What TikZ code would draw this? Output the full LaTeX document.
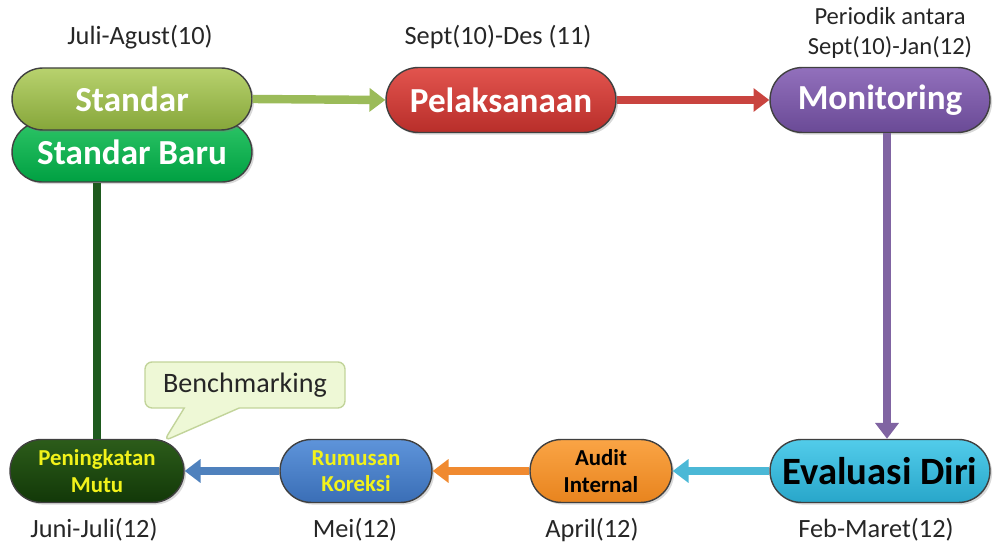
\documentclass[tikz,border=0pt]{standalone}
\usepackage{fontspec}
\setmainfont{Carlito}
\usetikzlibrary{arrows.meta,shapes.misc,shapes.callouts,shadows}
\definecolor{stTop}{HTML}{B8D26E}
\definecolor{stBot}{HTML}{86A63A}
\definecolor{sbTop}{HTML}{2CC466}
\definecolor{sbBot}{HTML}{00A042}
\definecolor{plTop}{HTML}{E2544E}
\definecolor{plBot}{HTML}{B82E2A}
\definecolor{moTop}{HTML}{9270BC}
\definecolor{moBot}{HTML}{6A4A96}
\definecolor{evTop}{HTML}{52CCEA}
\definecolor{evBot}{HTML}{28A6CA}
\definecolor{auTop}{HTML}{FAA445}
\definecolor{auBot}{HTML}{E8841E}
\definecolor{ruTop}{HTML}{5E94DA}
\definecolor{ruBot}{HTML}{3A6EB6}
\definecolor{peTop}{HTML}{2C5C1A}
\definecolor{peBot}{HTML}{123808}
\definecolor{arGreen}{HTML}{9BBB59}
\definecolor{arRed}{HTML}{C9443F}
\definecolor{arPurple}{HTML}{8064A2}
\definecolor{arCyan}{HTML}{4BB8D6}
\definecolor{arOrange}{HTML}{F08A30}
\definecolor{arBlue}{HTML}{4F81BD}
\definecolor{arDark}{HTML}{1E5A1E}
\definecolor{yel}{HTML}{F2F21A}
\definecolor{callFill}{HTML}{EEF8D6}
\definecolor{callLine}{HTML}{C2D49A}
\begin{document}
\begin{tikzpicture}[x=0.02cm,y=-0.02cm,
  box/.style={rounded rectangle, draw=black!75, line width=0.8pt, inner sep=0pt,
    align=center, drop shadow={opacity=0.3, shadow xshift=1.2pt, shadow yshift=-1.2pt}},
  bigtext/.style={font=\bfseries\fontsize{20}{21}\selectfont},
  smalltext/.style={font=\bfseries\fontsize{13}{15}\selectfont},
  lbl/.style={font=\fontsize{15}{17}\selectfont, text=black!85, align=center},
  conn/.style={line width=4.8pt, -{Triangle[width=13pt,length=9pt]}},
]
\useasboundingbox (0,0) rectangle (994,546);

% nodes
\node[box, minimum width=4.8cm, minimum height=1.2cm, top color=sbTop, bottom color=sbBot,
      text=white, bigtext] (baru) at (132,152) {Standar Baru};
\node[box, minimum width=4.8cm, minimum height=1.24cm, top color=stTop, bottom color=stBot,
      text=white, bigtext] (standar) at (132,99) {Standar};
\node[box, minimum width=4.6cm, minimum height=1.3cm, top color=plTop, bottom color=plBot,
      text=white, bigtext] (pel) at (501,100) {Pelaksanaan};
\node[box, minimum width=4.4cm, minimum height=1.3cm, top color=moTop, bottom color=moBot,
      text=white, bigtext] (mon) at (880,100) {Monitoring};
\node[box, minimum width=4.4cm, minimum height=1.26cm, top color=evTop, bottom color=evBot,
      text=black, font=\bfseries\fontsize{22}{24}\selectfont] (eva) at (880,471) {Evaluasi Diri};
\node[box, minimum width=2.84cm, minimum height=1.26cm, top color=auTop, bottom color=auBot,
      text=black, smalltext] (aud) at (601,471) {Audit\\Internal};
\node[box, minimum width=3.04cm, minimum height=1.26cm, top color=ruTop, bottom color=ruBot,
      text=yel, smalltext] (rum) at (356,471) {Rumusan\\Koreksi};
\node[box, minimum width=3.48cm, minimum height=1.26cm, top color=peTop, bottom color=peBot,
      text=yel, smalltext] (pen) at (97,471) {Peningkatan\\Mutu};

% callout
\node[rectangle callout, rounded corners=4pt, draw=callLine, fill=callFill, line width=0.8pt,
      minimum width=4cm, minimum height=0.92cm, callout absolute pointer={(164,441)},
      callout pointer width=1.1cm, font=\fontsize{16}{18}\selectfont, text=black!85]
      (bench) at (245,385) {Benchmarking};

% connectors
\draw[conn, arGreen] (standar.east) -- (pel.west);
\draw[conn, arRed] (pel.east) -- (mon.west);
\draw[conn, arPurple] ([xshift=0.14cm]mon.south) -- ([xshift=0.14cm]eva.north);
\draw[conn, arCyan] (eva.west) -- (aud.east);
\draw[conn, arOrange] (aud.west) -- (rum.east);
\draw[conn, arBlue] (rum.west) -- (pen.east);
\draw[line width=4.8pt, arDark] (pen.north) -- (pen.north |- baru.south);

% labels
\node[lbl] (l1) at (140,37) {Juli-Agust(10)};
\node[lbl] (l2) at (498,37) {Sept(10)-Des (11)};
\node[lbl, font=\fontsize{14}{17}\selectfont] (l3) at (890,33) {Periodik antara\\Sept(10)-Jan(12)};
\node[lbl] (l4) at (94,530) {Juni-Juli(12)};
\node[lbl] (l5) at (355,530) {Mei(12)};
\node[lbl] (l6) at (592,530) {April(12)};
\node[lbl] (l7) at (876,530) {Feb-Maret(12)};
\end{tikzpicture}
\end{document}
